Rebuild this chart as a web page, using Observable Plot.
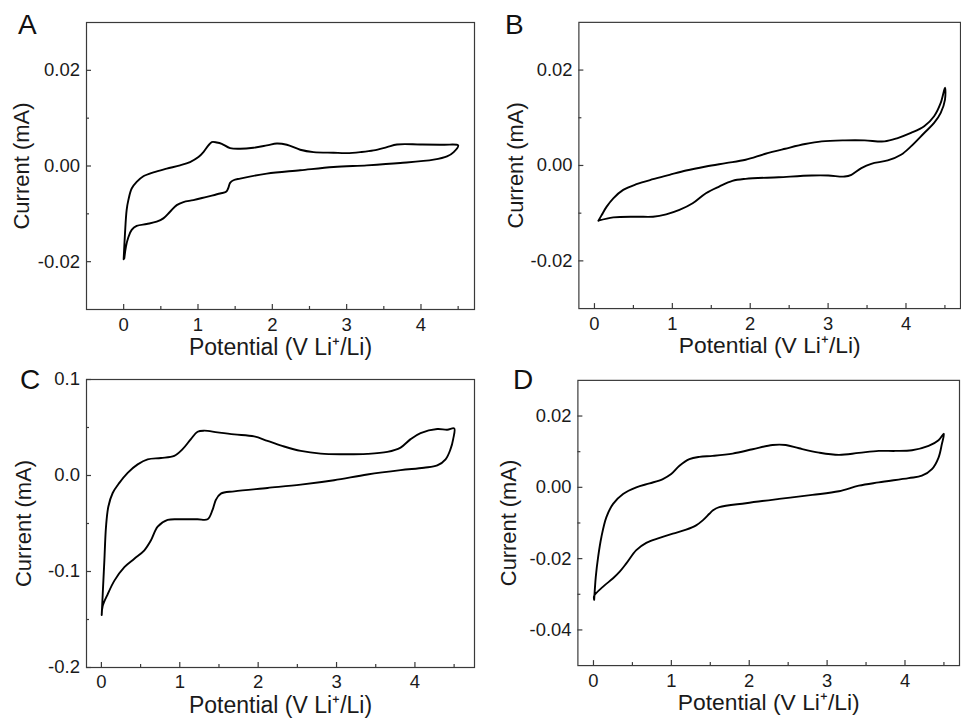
<!DOCTYPE html>
<html><head><meta charset="utf-8">
<script src="https://cdn.jsdelivr.net/npm/d3@7"></script>
<script src="https://cdn.jsdelivr.net/npm/@observablehq/plot@0.6"></script>
<style>
html,body{margin:0;padding:0;background:#fff;overflow:hidden;}
#root{position:relative;width:961px;height:721px;overflow:hidden;font-family:"Liberation Sans",Arial,sans-serif;}
.panel{position:absolute;}
.panel svg{overflow:visible;}
.letter{position:absolute;font-size:28px;line-height:1;color:#111;}
g[aria-label="x-axis label"]{font-size:23px;}
g[aria-label="y-axis label"]{font-size:22px;}
</style></head><body><div id="root"></div>
<script>
// ---- shared axis values ----
const xTicks = [0, 1, 2, 3, 4];
const xMinorTicks = [0.5, 1.5, 2.5, 3.5, 4.5];
const xLabel = "Potential (V Li\u207A/Li)";
const yLabel = "Current (mA)";
const panelLetters = ["A", "B", "C", "D"];

// ---- panel A ----
const yTicksA = [-0.02, 0, 0.02];
const yMinorA = [-0.01, 0.01];
const A_anodic = [[0.0,-0.0195],[0.018,-0.01407],[0.040,-0.00922],[0.063,-0.00714],[0.108,-0.00471],[0.175,-0.00333],[0.265,-0.00215],[0.400,-0.00132],[0.579,-0.00055],[0.759,0.00014],[0.893,0.00083],[1.006,0.00187],[1.073,0.00291],[1.140,0.0043],[1.185,0.0050],[1.253,0.00492],[1.320,0.00464],[1.432,0.00374],[1.567,0.0036],[1.746,0.00381],[1.926,0.0043],[2.061,0.00471],[2.195,0.00444],[2.375,0.0034],[2.554,0.00291],[2.824,0.00277],[3.003,0.0027],[3.183,0.00291],[3.363,0.00326],[3.542,0.00395],[3.677,0.0045],[3.991,0.0045],[4.305,0.00444],[4.5,0.0043]];
const A_cathodic = [[4.440,0.00291],[4.350,0.0020],[4.171,0.00132],[3.722,0.00062],[3.273,0.00014],[2.824,-0.00021],[2.375,-0.0009],[1.926,-0.00159],[1.567,-0.00263],[1.477,-0.00298],[1.432,-0.00353],[1.405,-0.00471],[1.378,-0.0054],[1.297,-0.00575],[1.118,-0.00644],[0.938,-0.00714],[0.804,-0.00755],[0.714,-0.00818],[0.624,-0.00956],[0.534,-0.01095],[0.444,-0.01164],[0.310,-0.01213],[0.175,-0.01254],[0.108,-0.01337],[0.063,-0.0149],[0.031,-0.01684],[0.009,-0.01927]];

// ---- panel B ----
const yTicksB = [-0.02, 0, 0.02];
const yMinorB = [-0.01, 0.01];
const B_anodic = [[0.051,-0.01158],[0.093,-0.01039],[0.157,-0.00863],[0.242,-0.00688],[0.369,-0.00512],[0.539,-0.00393],[0.752,-0.00288],[0.964,-0.00196],[1.176,-0.00105],[1.431,-0.00021],[1.686,0.00049],[1.941,0.00119],[2.195,0.00246],[2.450,0.00351],[2.705,0.00449],[2.917,0.00505],[3.214,0.00526],[3.469,0.00526],[3.724,0.00505],[3.894,0.00575],[4.064,0.00681],[4.234,0.00821],[4.361,0.01032],[4.446,0.01312],[4.501,0.01628]];
const B_cathodic = [[4.501,0.01382],[4.446,0.01102],[4.361,0.00891],[4.234,0.00681],[4.064,0.0040],[3.936,0.00225],[3.766,0.00105],[3.554,0.00035],[3.427,-0.00056],[3.299,-0.00196],[3.214,-0.00232],[3.002,-0.00211],[2.790,-0.00211],[2.365,-0.00246],[1.941,-0.00281],[1.771,-0.00323],[1.601,-0.00442],[1.431,-0.00582],[1.261,-0.00793],[1.091,-0.00933],[0.921,-0.01025],[0.752,-0.01074],[0.539,-0.01074],[0.242,-0.01088],[0.051,-0.01158]];

// ---- panel C ----
const yTicksC = [-0.2, -0.1, 0, 0.1];
const yMinorC = [-0.15, -0.05, 0.05];
const C_anodic = [[0.004,-0.1453],[0.017,-0.1235],[0.038,-0.0884],[0.059,-0.0533],[0.089,-0.0323],[0.144,-0.0182],[0.229,-0.0077],[0.335,0.0028],[0.463,0.0116],[0.590,0.0168],[0.760,0.0182],[0.930,0.0204],[1.036,0.0274],[1.142,0.0379],[1.227,0.0456],[1.312,0.0467],[1.482,0.0449],[1.694,0.0428],[1.949,0.0407],[2.119,0.0361],[2.331,0.0302],[2.544,0.0256],[2.798,0.0228],[3.053,0.0221],[3.393,0.0225],[3.648,0.0246],[3.817,0.0291],[3.945,0.0379],[4.072,0.0442],[4.285,0.0484],[4.412,0.0477],[4.501,0.0491]];
const C_cathodic = [[4.488,0.0379],[4.454,0.0274],[4.391,0.0168],[4.285,0.0105],[4.115,0.0081],[3.817,0.0056],[3.393,0.0011],[2.968,-0.0049],[2.544,-0.0095],[2.119,-0.0130],[1.694,-0.0165],[1.524,-0.0189],[1.461,-0.0253],[1.418,-0.0358],[1.355,-0.0456],[1.227,-0.0456],[1.015,-0.0456],[0.845,-0.0463],[0.718,-0.0533],[0.633,-0.0674],[0.548,-0.0779],[0.420,-0.0867],[0.293,-0.0954],[0.166,-0.1095],[0.081,-0.1235],[0.017,-0.1358],[0.004,-0.1453]];

// ---- panel D ----
const yTicksD = [-0.04, -0.02, 0, 0.02];
const yMinorD = [-0.03, -0.01, 0.01];
const D_anodic = [[0.009,-0.03155],[0.030,-0.02506],[0.060,-0.01949],[0.102,-0.01392],[0.166,-0.00835],[0.252,-0.00464],[0.380,-0.00186],[0.550,0.0],[0.721,0.00111],[0.891,0.00232],[0.998,0.00371],[1.104,0.00603],[1.232,0.00789],[1.360,0.00854],[1.531,0.00882],[1.787,0.00947],[2.043,0.01067],[2.299,0.01188],[2.469,0.01188],[2.640,0.01095],[2.896,0.00974],[3.151,0.0091],[3.407,0.00965],[3.663,0.01021],[3.876,0.01021],[4.090,0.01039],[4.303,0.0116],[4.431,0.01318],[4.499,0.01503]];
const D_cathodic = [[4.473,0.01207],[4.431,0.00835],[4.346,0.0051],[4.217,0.00325],[4.047,0.0026],[3.663,0.00139],[3.407,0.00046],[3.151,-0.00111],[2.810,-0.00213],[2.384,-0.00325],[1.957,-0.00445],[1.616,-0.00557],[1.531,-0.0065],[1.488,-0.00742],[1.403,-0.00928],[1.318,-0.01067],[1.190,-0.01188],[1.019,-0.01299],[0.849,-0.0142],[0.678,-0.01559],[0.550,-0.01763],[0.422,-0.02135],[0.337,-0.02367],[0.252,-0.02552],[0.124,-0.02784],[0.009,-0.03044],[0.009,-0.03155]];

// ---- layout (positions/styles kept apart from the data) ----
const panels = [
  {anodic: A_anodic, cathodic: A_cathodic, yTicks: yTicksA, yMinor: yMinorA, digits: 2,
   xDomain: [-0.5, 4.72], yDomain: [-0.03, 0.03],
   left: 0, top: 0, width: 480, height: 360, m: [22, 6, 51, 86], yLabelOffset: 73,
   letterPos: [18, 11]},
  {anodic: B_anodic, cathodic: B_cathodic, yTicks: yTicksB, yMinor: yMinorB, digits: 2,
   xDomain: [-0.2, 4.7], yDomain: [-0.03, 0.03],
   left: 480, top: 0, width: 484, height: 360, m: [22, 1, 50, 99], yLabelOffset: 72,
   letterPos: [505, 11]},
  {anodic: C_anodic, cathodic: C_cathodic, yTicks: yTicksC, yMinor: yMinorC, digits: 1,
   xDomain: [-0.19, 4.76], yDomain: [-0.2, 0.1],
   left: 0, top: 360, width: 480, height: 361, m: [19, 6, 54, 86], yLabelOffset: 71,
   letterPos: [20, 366]},
  {anodic: D_anodic, cathodic: D_cathodic, yTicks: yTicksD, yMinor: yMinorD, digits: 2,
   xDomain: [-0.2, 4.7], yDomain: [-0.05, 0.03],
   left: 480, top: 360, width: 484, height: 361, m: [20, 2, 54, 98], yLabelOffset: 78,
   letterPos: [513, 366]}
];

const root = document.getElementById("root");
const axisColor = "#3a3a3a";
const textColor = "#1a1a1a";

panels.forEach((p, k) => {
  const [mt, mr, mb, ml] = p.m;
  const innerH = p.height - mt - mb;
  const innerW = p.width - ml - mr;
  const loop = [...p.anodic, ...p.cathodic].map(([v, i]) => ({v, i}));
  const chart = Plot.plot({
    width: p.width,
    height: p.height,
    marginTop: mt, marginRight: mr, marginBottom: mb, marginLeft: ml,
    style: {fontFamily: '"Liberation Sans", Arial, sans-serif', fontSize: "18.5px", color: textColor, background: "transparent"},
    x: {domain: p.xDomain},
    y: {domain: p.yDomain},
    marks: [
      Plot.frame({stroke: axisColor, strokeWidth: 1.2}),
      Plot.tickX(xTicks, {x: d => d, insetTop: innerH - 5, stroke: axisColor, strokeWidth: 1.2}),
      Plot.tickX(xMinorTicks, {x: d => d, insetTop: innerH - 3, stroke: axisColor, strokeWidth: 1.2}),
      Plot.tickY(p.yTicks, {y: d => d, insetRight: innerW - 5, stroke: axisColor, strokeWidth: 1.2}),
      Plot.tickY(p.yMinor, {y: d => d, insetRight: innerW - 3, stroke: axisColor, strokeWidth: 1.2}),
      Plot.axisX(xTicks, {tickSize: 0, tickPadding: k === 2 ? 7 : 8.5, tickFormat: d => String(d),
        label: xLabel, labelAnchor: "center", labelOffset: 45, labelArrow: "none", fill: textColor}),
      Plot.axisY(p.yTicks, {tickSize: 0, tickPadding: 6.5, tickFormat: d => d.toFixed(p.digits),
        label: yLabel, labelAnchor: "center", labelOffset: p.yLabelOffset, labelArrow: "none", fill: textColor}),
      Plot.line(loop, {x: "v", y: "i", stroke: "#000", strokeWidth: 1.9, curve: "catmull-rom"})
    ]
  });
  const div = document.createElement("div");
  div.className = "panel";
  div.style.left = p.left + "px";
  div.style.top = p.top + "px";
  div.appendChild(chart);
  root.appendChild(div);

  const letter = document.createElement("div");
  letter.className = "letter";
  letter.textContent = panelLetters[k];
  letter.style.left = p.letterPos[0] + "px";
  letter.style.top = p.letterPos[1] + "px";
  root.appendChild(letter);
});
</script>
</body></html>
